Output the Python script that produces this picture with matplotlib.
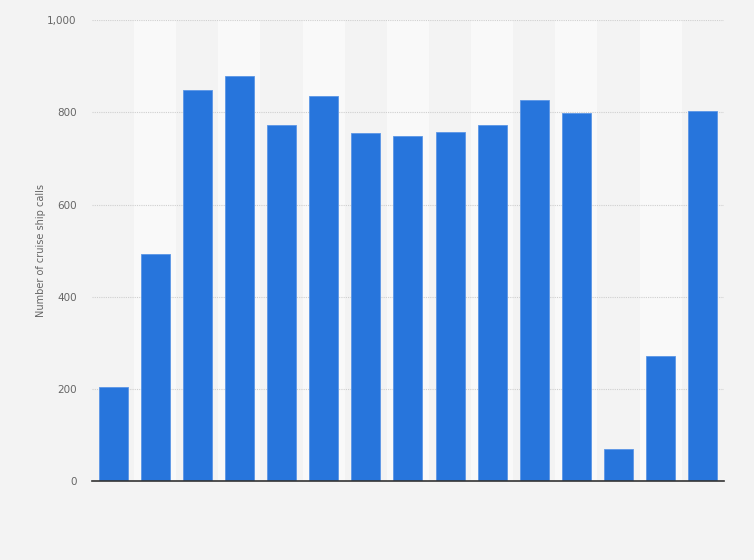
import matplotlib.pyplot as plt

# Values (no x labels shown in the reference)
categories = list(range(1, 16))
ship_calls = [204, 492, 848, 878, 772, 835, 755, 748, 757, 772, 826, 798, 69, 271, 803]
y_ticks = [0, 200, 400, 600, 800, 1000]
y_tick_labels = ['0', '200', '400', '600', '800', '1,000']

fig = plt.figure(figsize=(7.54, 5.6), dpi=100, facecolor='#f3f3f3')
ax = fig.add_axes([0.122, 0.141, 0.838, 0.823])
ax.set_facecolor('#f3f3f3')

x = list(range(len(categories)))

# alternating light column bands
for i in x:
    if i % 2 == 1:
        ax.axvspan(i - 0.5, i + 0.5, color='#f9f9f9', zorder=0, lw=0)

ax.bar(x, ship_calls, width=0.69, color='#2775dc', edgecolor='#5b96e6',
       linewidth=0.6, zorder=3)

ax.set_xlim(-0.5, len(categories) - 0.5)
ax.set_ylim(0, 1000)
ax.set_yticks(y_ticks)
ax.set_yticklabels(y_tick_labels)
ax.set_xticks([])

ax.yaxis.grid(True, color='#cfcfcf', linestyle=(0, (1, 1)), linewidth=0.8, zorder=1)
ax.set_axisbelow(True)

for side in ['top', 'right', 'left']:
    ax.spines[side].set_visible(False)
ax.spines['bottom'].set_color('#333333')
ax.spines['bottom'].set_linewidth(1.2)
ax.spines['bottom'].set_zorder(4)

ax.tick_params(axis='y', length=0, pad=11, labelsize=7.5, labelcolor='#666666')
ax.set_ylabel('Number of cruise ship calls', fontsize=7, color='#666666', labelpad=1)

fig.savefig('out.png', dpi=100, facecolor=fig.get_facecolor())
